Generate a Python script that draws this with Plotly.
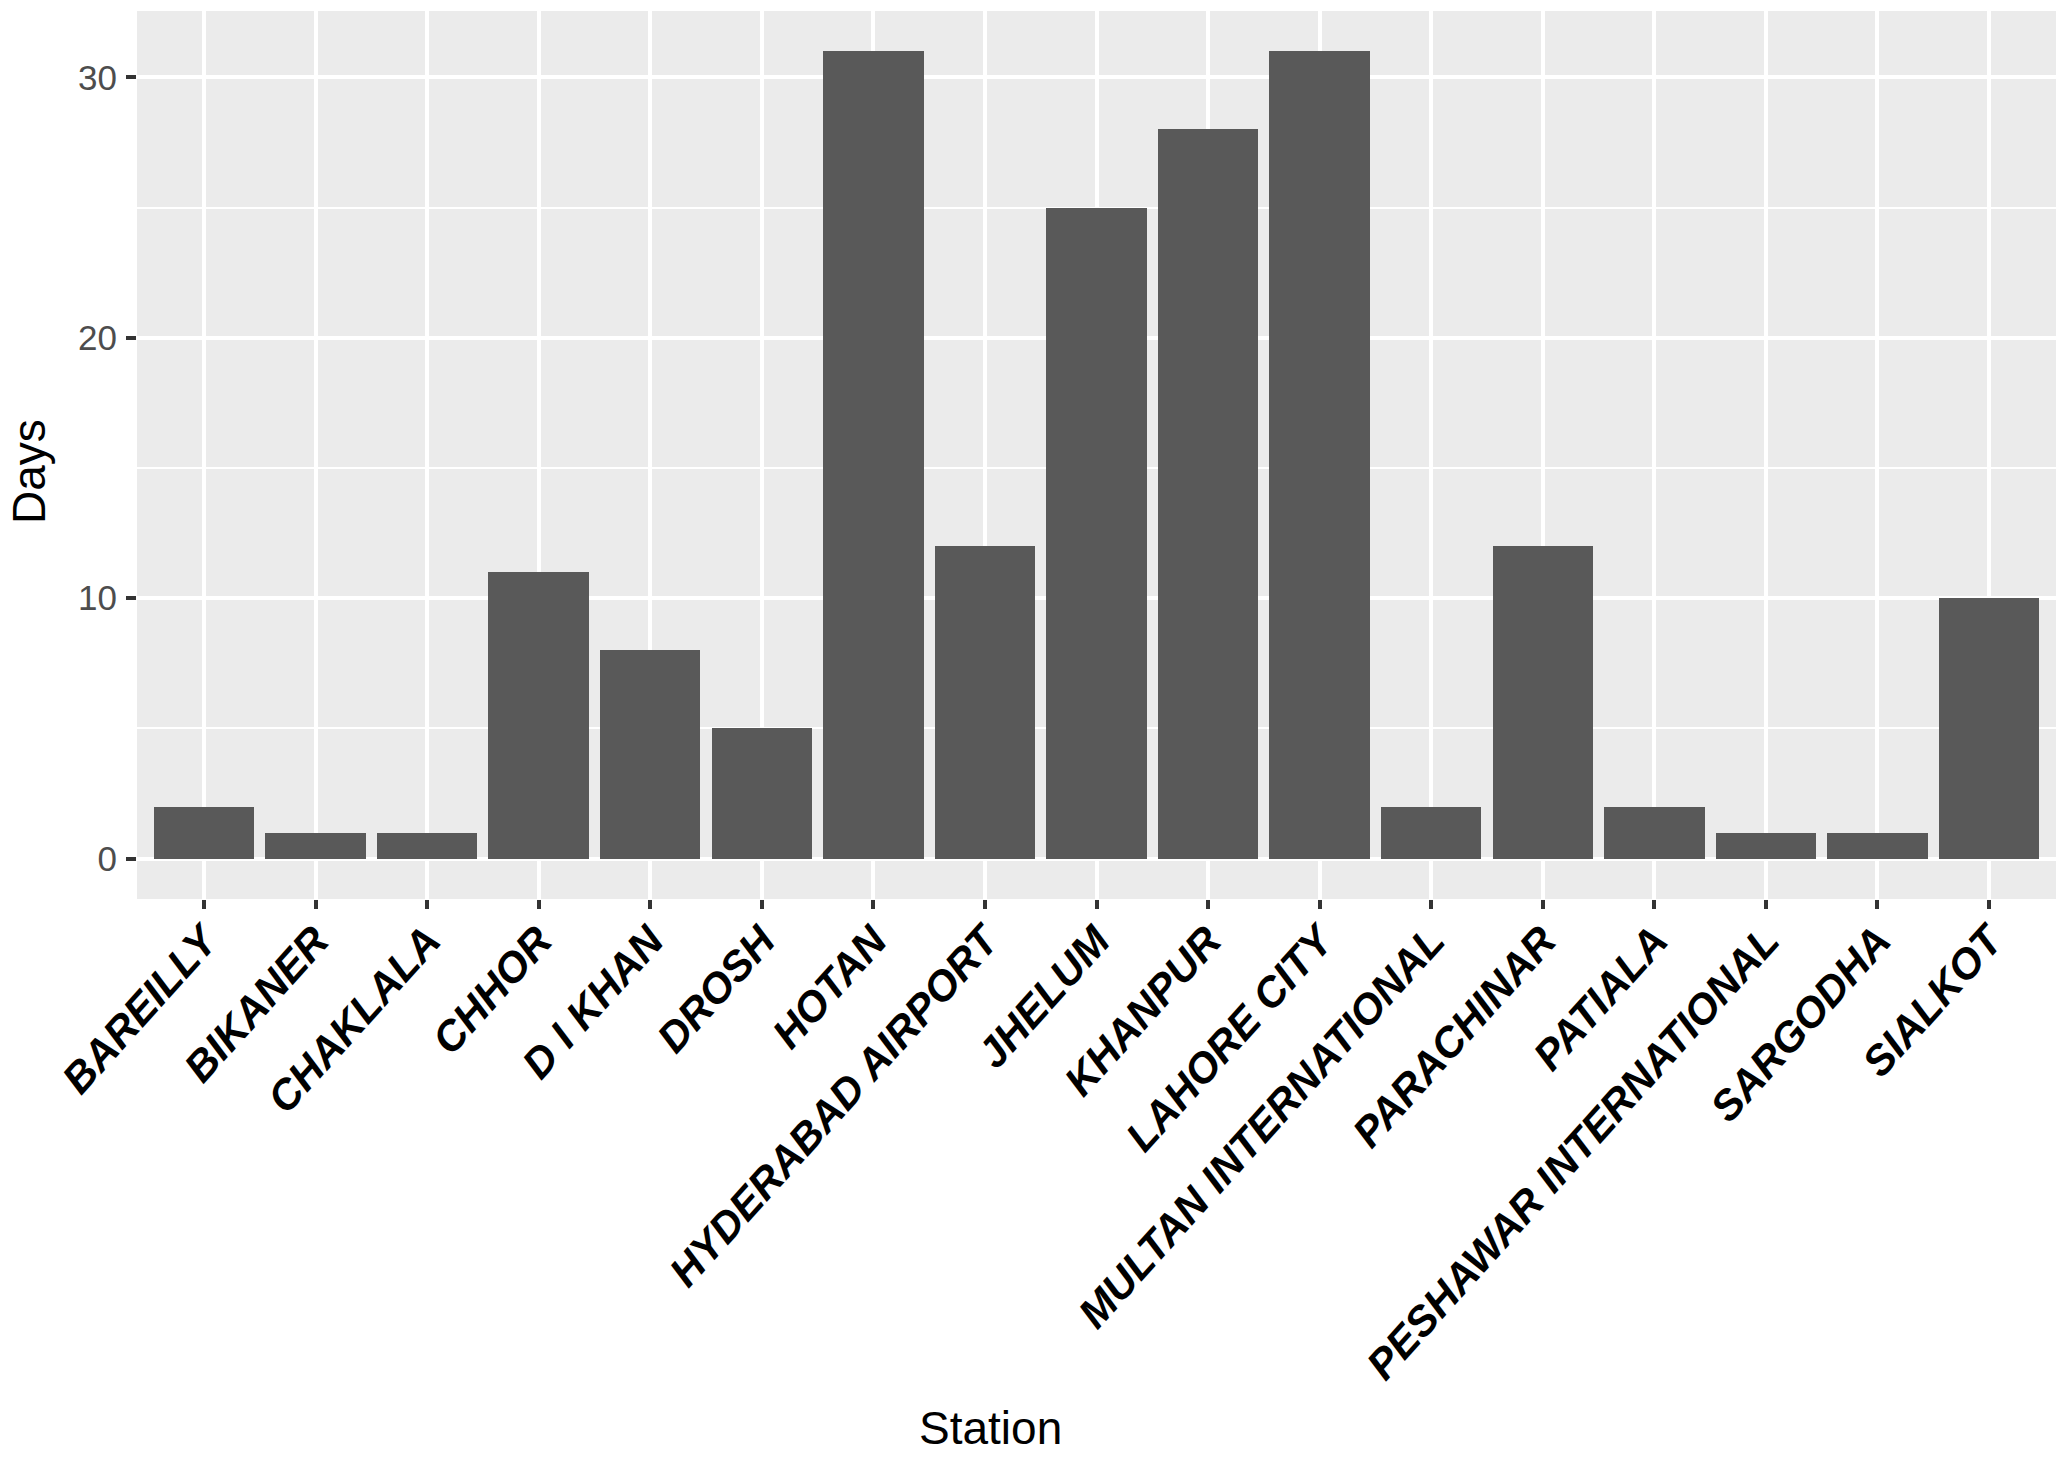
import plotly.graph_objects as go

stations = ["BAREILLY", "BIKANER", "CHAKLALA", "CHHOR", "D I KHAN", "DROSH", "HOTAN",
            "HYDERABAD AIRPORT", "JHELUM", "KHANPUR", "LAHORE CITY", "MULTAN INTERNATIONAL",
            "PARACHINAR", "PATIALA", "PESHAWAR INTERNATIONAL", "SARGODHA", "SIALKOT"]
days = [2, 1, 1, 11, 8, 5, 31, 12, 25, 28, 31, 2, 12, 2, 1, 1, 10]
y_ticks = [0, 10, 20, 30]

W, H = 2067, 1459
L, T = 137, 11
R = W - 2056
B = H - 899
pw, ph = W - L - R, H - T - B

FONT = "Liberation Sans, Arial, sans-serif"

fig = go.Figure(go.Bar(x=stations, y=days, width=0.9, marker=dict(color="#595959", line=dict(width=0))))

fig.update_layout(
    width=W, height=H,
    margin=dict(l=L, r=R, t=T, b=B, autoexpand=False),
    paper_bgcolor="white", plot_bgcolor="#EBEBEB",
    showlegend=False,
    font=dict(family=FONT),
    bargap=0,
)
fig.update_xaxes(
    type="category", range=[-0.6, len(stations) - 0.4],
    showgrid=True, gridcolor="white", gridwidth=4,
    ticks="outside", ticklen=9, tickwidth=3.5, tickcolor="#333333",
    tickangle=-48,
    ticklabelstandoff=-10,
    tickfont=dict(family=FONT, size=42, color="black", weight="bold", style="italic"),
    showline=False, zeroline=False,
)
fig.update_yaxes(
    range=[-1.55, 32.55],
    tickvals=y_ticks, ticktext=[str(v) for v in y_ticks],
    showgrid=True, gridcolor="white", gridwidth=4,
    minor=dict(tickvals=[5, 15, 25], showgrid=True, gridcolor="white", gridwidth=2, ticks=""),
    ticks="outside", ticklen=10, tickwidth=3.5, tickcolor="#333333",
    ticklabelstandoff=2,
    tickfont=dict(family=FONT, size=35, color="#4D4D4D"),
    showline=False, zeroline=False,
)

fig.add_annotation(text="Days", xref="paper", yref="paper",
                   x=(29 - L) / pw, y=(899 - 472) / ph,
                   xanchor="center", yanchor="middle", textangle=-90, showarrow=False,
                   font=dict(family=FONT, size=46, color="black"))
fig.add_annotation(text="Station", xref="paper", yref="paper",
                   x=(990 - L) / pw, y=(899 - 1428) / ph,
                   xanchor="center", yanchor="middle", showarrow=False,
                   font=dict(family=FONT, size=46, color="black"))

fig.write_html("out.html", config={"displayModeBar": False},
               post_script="document.body.style.margin='0';")
